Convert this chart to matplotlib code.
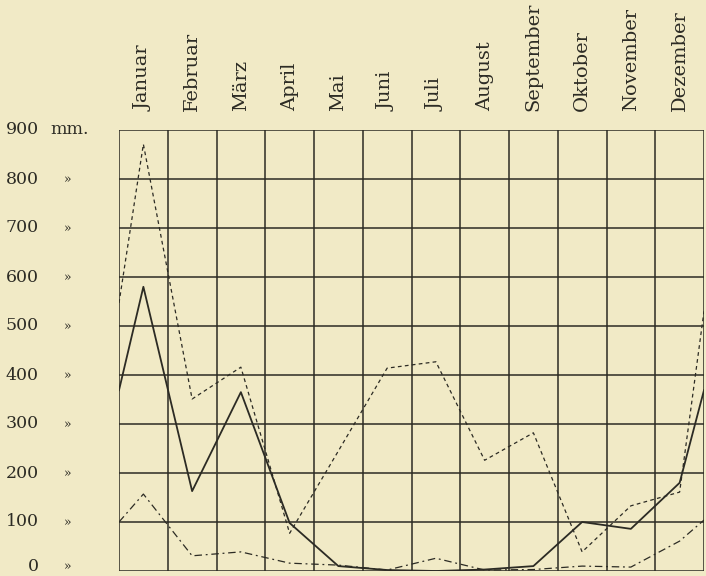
import matplotlib
matplotlib.use("Agg")
import matplotlib.pyplot as plt
from matplotlib.transforms import blended_transform_factory
import numpy as np

months = ["Januar", "Februar", "März", "April", "Mai", "Juni", "Juli",
          "August", "September", "Oktober", "November", "Dezember"]
y_ticks = [0, 100, 200, 300, 400, 500, 600, 700, 800, 900]

# monthly values (mm)
solid_vals = [580, 163, 365, 98, 10, 2, 0, 3, 10, 100, 86, 180]
dashed_vals = [871, 351, 416, 77, 245, 414, 427, 226, 282, 39, 133, 161]
dashdot_vals = [157, 31, 39, 16, 12, 2, 26, 2, 3, 10, 8, 61]
# values at the year boundary (left / right edge of the grid)
solid_edge_left, solid_edge_right = 369, 369
dashed_edge_left, dashed_edge_right = 547, 530
dashdot_edge_left, dashdot_edge_right = 100, 104

bg = "#F1EAC6"
ink = "#2c2b24"

fig = plt.figure(figsize=(7.06, 5.76), dpi=100, facecolor=bg)
ax = fig.add_axes([119 / 706, 1 - 571 / 576, (704 - 119) / 706, (571 - 130) / 576])
ax.set_facecolor(bg)

n = len(months)
x_c = np.arange(n) + 0.5
x_full = np.concatenate([[0], x_c, [n]])

def full(vals, left, right):
    return np.concatenate([[left], vals, [right]])

ax.plot(x_full, full(dashed_vals, dashed_edge_left, dashed_edge_right),
        color=ink, lw=0.9, linestyle=(0, (3, 2.6)), zorder=3)
ax.plot(x_full, full(dashdot_vals, dashdot_edge_left, dashdot_edge_right),
        color=ink, lw=0.9, linestyle=(0, (6, 3, 1.5, 3)), zorder=3)
ax.plot(x_full, full(solid_vals, solid_edge_left, solid_edge_right),
        color=ink, lw=1.3, linestyle="-", zorder=4)

ax.set_xlim(0, n)
ax.set_ylim(0, 900)

# grid
for xv in range(0, n + 1):
    ax.axvline(xv, color=ink, lw=1.1, zorder=2)
for yv in y_ticks:
    ax.axhline(yv, color=ink, lw=1.1, zorder=2)
for s in ax.spines.values():
    s.set_visible(False)

ax.set_xticks(x_c)
ax.set_xticklabels(months, rotation=90, family="DejaVu Serif", fontsize=14,
                   color=ink)
ax.xaxis.tick_top()
ax.tick_params(axis="x", length=0, pad=14)
ax.set_yticks([])

tr = blended_transform_factory(fig.transFigure, ax.transData)
for yv in y_ticks:
    ypos = yv if yv > 0 else 10
    ax.text(39 / 706, ypos, str(yv), transform=tr, ha="right", va="center",
            family="DejaVu Serif", fontsize=12.5, color=ink, clip_on=False)
    if yv == 900:
        ax.text(50 / 706, ypos, "mm.", transform=tr, ha="left", va="center",
                family="DejaVu Serif", fontsize=12.5, color=ink, clip_on=False)
    else:
        ax.text(68 / 706, ypos, "»", transform=tr, ha="center", va="center",
                family="DejaVu Serif", fontsize=9, color=ink, clip_on=False)

fig.savefig("out.png", dpi=100, facecolor=bg)
